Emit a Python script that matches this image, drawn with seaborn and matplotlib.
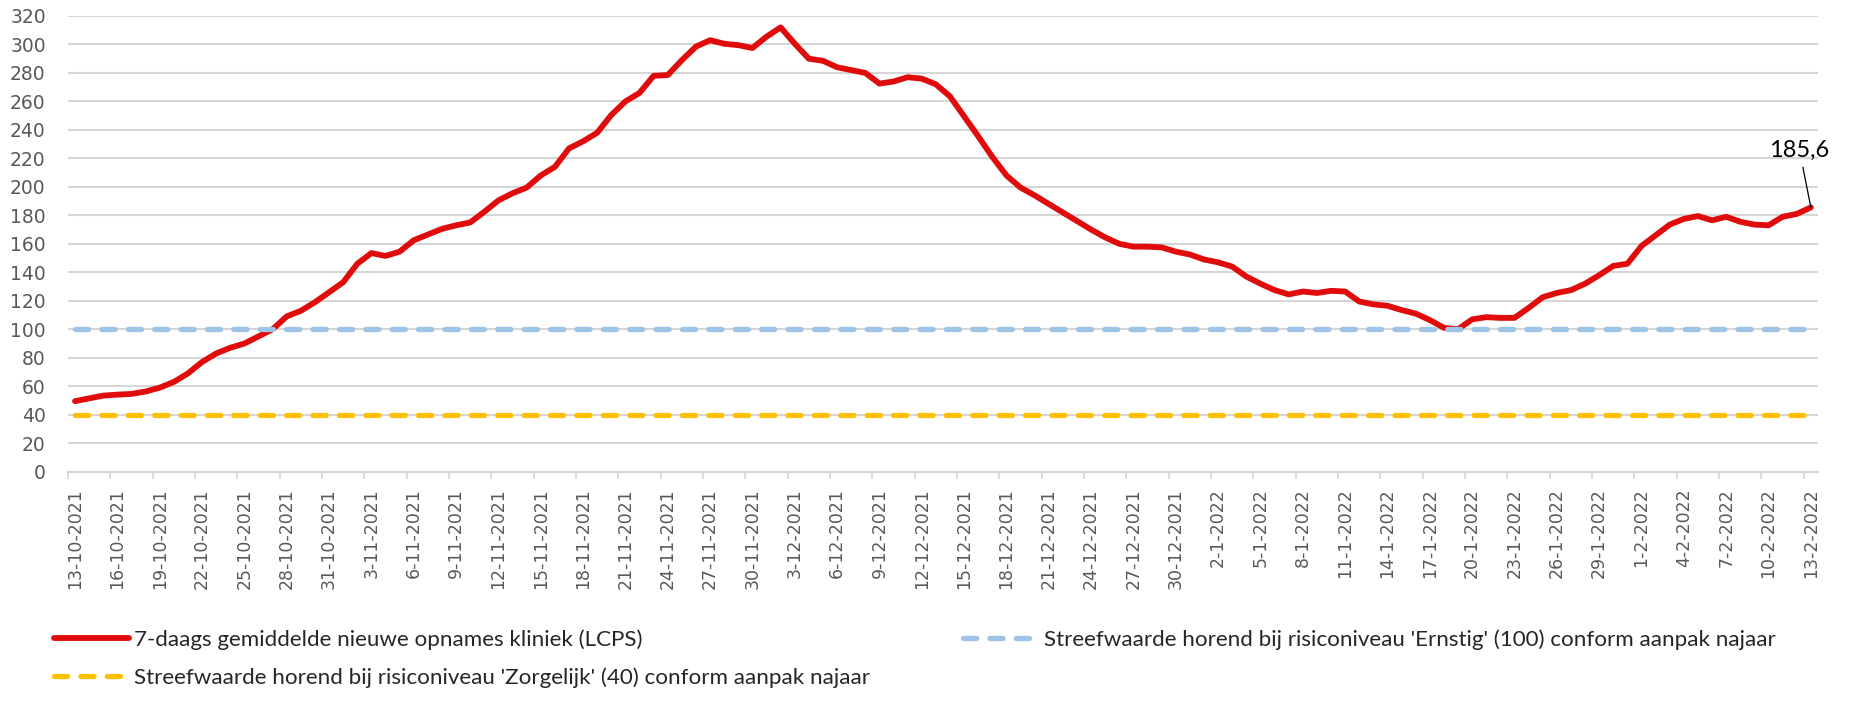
import numpy as np
import pandas as pd
import seaborn as sns
import matplotlib.pyplot as plt

# daily categories, 13-10-2021 .. 13-2-2022
dates = pd.date_range('2021-10-13', '2022-02-13', freq='D')

# 7-daags gemiddelde nieuwe opnames kliniek (LCPS)
opnames = [
    49.5, 51.5, 53.4, 54.1, 54.6, 56.3, 59, 63, 69, 77,
    83, 87, 90, 95, 100, 109, 113, 119, 126, 133,
    146, 153.5, 151.5, 154.5, 162.5, 166.5, 170.5, 173, 175, 182.5,
    190.5, 195.5, 199.5, 208, 214, 227, 232, 238, 250.5, 260,
    266, 278, 278.5, 289, 298.5, 303, 300.5, 299.5, 297.5, 305.5,
    312, 300.5, 290, 288.5, 284, 282, 280, 272.5, 274, 277,
    276, 272, 263.5, 249.5, 235.5, 221, 208, 199.5, 194, 188,
    182, 176, 170, 164.5, 160, 158, 158, 157.5, 154.5, 152.5,
    149, 147, 144, 137, 132, 127.5, 124.5, 126.5, 125.5, 127,
    126.5, 119.5, 117.5, 116.5, 113.5, 111, 106.5, 101, 100, 107,
    108.5, 108, 108, 115, 122.5, 125.5, 127.5, 132, 138, 144.5,
    146, 158.5, 166, 173.5, 177.5, 179.5, 176.5, 179, 175.5, 173.5,
    173, 179, 181, 185.6,
]
ernstig = 100
zorgelijk = 40
last_label = '185,6'

names = [
    '7-daags gemiddelde nieuwe opnames kliniek (LCPS)',
    "Streefwaarde horend bij risiconiveau 'Ernstig' (100) conform aanpak najaar",
    "Streefwaarde horend bij risiconiveau 'Zorgelijk' (40) conform aanpak najaar",
]
colors = ['#E00B0B', '#9DC3E6', '#FFC000']

tick_labels = [f'{d.day}-{d.month}-{d.year}' for d in dates]

df = pd.DataFrame({
    'dag': np.arange(len(dates)),
    'opnames': opnames,
    'ernstig': ernstig,
    'zorgelijk': zorgelijk,
})

sns.set_theme(style='white')
plt.rcParams['font.family'] = ['DejaVu Sans']

fig = plt.figure(figsize=(18.52, 7.04), dpi=100)
ax = fig.add_axes([0.0367, 0.330, 0.9449, 0.6473])

sns.lineplot(data=df, x='dag', y='opnames', color=colors[0], lw=4.2, ax=ax, zorder=3)
sns.lineplot(data=df, x='dag', y='ernstig', color=colors[1], lw=3.8, ax=ax, zorder=4)
sns.lineplot(data=df, x='dag', y='zorgelijk', color=colors[2], lw=3.8, ax=ax, zorder=4)
lines = ax.get_lines()
for ln in lines[1:]:
    ln.set_dashes([2.5, 2.5])
    ln.set_dash_capstyle('round')

ax.set_xlim(-0.5, len(dates) - 0.5)
ax.set_ylim(0, 320)
ax.set_yticks(np.arange(0, 321, 20))
ax.yaxis.grid(True, color='#D6D6D6', lw=1.5)
ax.set_axisbelow(True)
for s in ['top', 'right', 'left']:
    ax.spines[s].set_visible(False)
ax.spines['bottom'].set_color('#D6D6D6')
ax.spines['bottom'].set_linewidth(1.5)

ax.set_xticks(df['dag'][::3])
ax.set_xticklabels(tick_labels[::3], rotation=90, fontsize=12.5, color='#595959')
ax.set_xticks(np.arange(-0.5, len(dates) - 1, 3), minor=True)
ax.tick_params(axis='x', which='major', length=0, pad=12)
ax.tick_params(axis='x', which='minor', length=5, width=1.2, color='#D6D6D6', bottom=True)
ax.tick_params(axis='y', length=0, pad=16, labelsize=13.5, labelcolor='#595959')
ax.set_xlabel('')
ax.set_ylabel('')

# data label on the last point
ax.annotate(last_label, xy=(df['dag'].iloc[-1], opnames[-1]), xytext=(122.2, 218),
            ha='center', va='bottom', fontsize=17, family='Lato', color='black',
            arrowprops=dict(arrowstyle='-', color='black', lw=0.9, shrinkA=2, shrinkB=0))

order = [0, 2, 1]
fig.legend([lines[i] for i in order], [names[i] for i in order], ncol=2,
           loc='upper left', bbox_to_anchor=(0.029, 0.106), frameon=False,
           prop={'family': 'Lato', 'size': 16.1}, handlelength=3.35, handletextpad=0.25,
           columnspacing=4.15, labelspacing=0.76, borderpad=0, borderaxespad=0)

fig.savefig('out.png', dpi=100, facecolor='white')
